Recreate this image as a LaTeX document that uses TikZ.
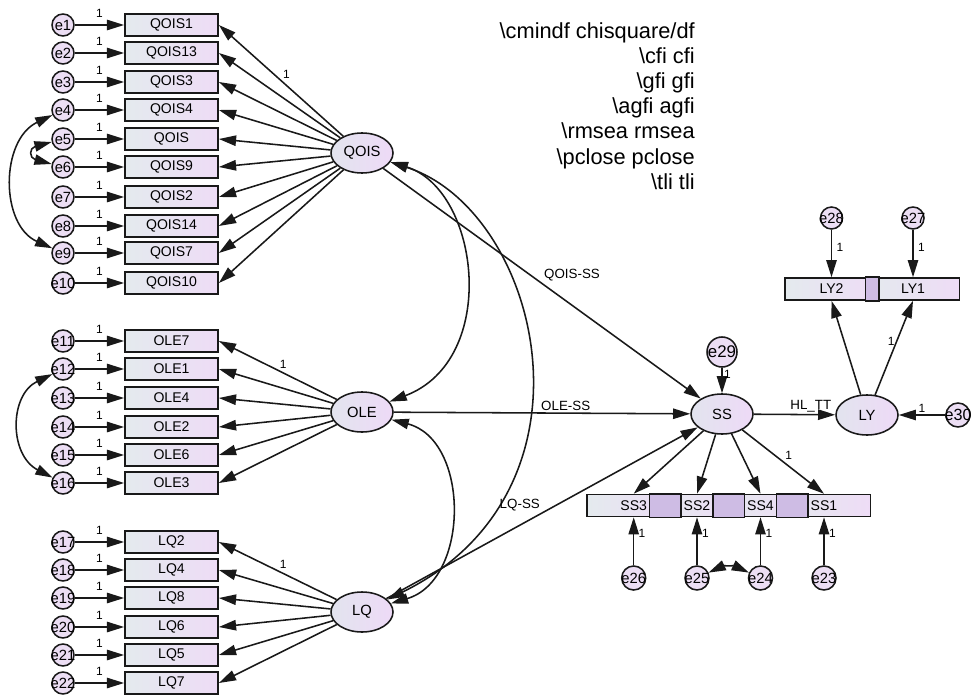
\documentclass[tikz,border=0pt]{standalone}
\usepackage{fontspec}
\setmainfont{Liberation Sans}
\usepackage{xcolor}
\usetikzlibrary{positioning, arrows.meta, shapes.geometric}
\definecolor{boxleft}{RGB}{228,234,238}
\definecolor{boxright}{RGB}{238,220,246}
\definecolor{latleft}{RGB}{226,228,238}
\definecolor{latright}{RGB}{238,218,247}
\definecolor{errfill}{RGB}{236,222,244}
\definecolor{overlapfill}{RGB}{206,188,228}
\definecolor{semline}{RGB}{25,25,25}

\begin{document}
\begin{tikzpicture}[
  x=0.025cm, y=-0.025cm,
  semarrow/.style={-{Triangle[length=4.3mm,width=2.6mm]}, line width=1.1pt, draw=semline},
  semcov/.style={{Triangle[length=4.3mm,width=2.6mm]}-{Triangle[length=4.3mm,width=2.6mm]},
                 line width=1.1pt, draw=semline},
  errnode/.style={circle, draw=semline, line width=1.1pt, fill=errfill,
                  minimum size=0.55cm, inner sep=0pt, font=\fontsize{10.5}{12}\selectfont},
  obsbox/.style={rectangle, draw=semline, line width=1.1pt, left color=boxleft, right color=boxright,
                 minimum width=2.33cm, minimum height=0.55cm, inner sep=0pt,
                 font=\fontsize{10}{12}\selectfont},
  latent/.style={ellipse, draw=semline, line width=1.1pt, left color=latleft, right color=latright,
                 minimum width=1.55cm, minimum height=1.0cm, inner sep=0pt,
                 font=\fontsize{10.5}{12}\selectfont},
  wlabel/.style={font=\fontsize{8.5}{10}\selectfont, inner sep=1pt},
  pathlabel/.style={font=\fontsize{9.5}{11}\selectfont, inner sep=1pt},
  fitnote/.style={align=right, font=\fontsize{15.5}{17.9}\selectfont, inner sep=0pt}
]
\path[use as bounding box, fill=white] (0,0) rectangle (980,696);

% -------- LATENTES --------
\node[latent] (qois) at (362,153) {QOIS};
\node[latent] (ole) at (362,412) {OLE};
\node[latent] (lq) at (362,612) {LQ};
\node[latent] (ss) at (722,414) {SS};
\node[latent] (ly) at (867,415) {LY};

% -------- INDICADORES QOIS / OLE / LQ --------
\foreach \i/\lab/\y in {1/QOIS1/25, 2/QOIS13/53, 3/QOIS3/82, 4/QOIS4/110, 5/QOIS/139,
                        6/QOIS9/167, 7/QOIS2/197, 8/QOIS14/226, 9/QOIS7/253, 10/QOIS10/283}{
  \node[errnode] (e\i) at (63,\y) {\makebox[0pt]{e\i}};
  \node[obsbox] (q\i) at (171.5,\y) {\lab};
  \draw[semarrow] (e\i) -- node[wlabel, above=4pt] {1} (q\i);
}
\foreach \i/\k/\lab/\y in {11/1/OLE7/341, 12/2/OLE1/369, 13/3/OLE4/398,
                           14/4/OLE2/427, 15/5/OLE6/455, 16/6/OLE3/483}{
  \node[errnode] (e\i) at (63,\y) {\makebox[0pt]{e\i}};
  \node[obsbox] (o\k) at (171.5,\y) {\lab};
  \draw[semarrow] (e\i) -- node[wlabel, above=4pt] {1} (o\k);
}
\foreach \i/\k/\lab/\y in {17/1/LQ2/542, 18/2/LQ4/570, 19/3/LQ8/598,
                           20/4/LQ6/627, 21/5/LQ5/655, 22/6/LQ7/683}{
  \node[errnode] (e\i) at (63,\y) {\makebox[0pt]{e\i}};
  \node[obsbox] (l\k) at (171.5,\y) {\lab};
  \draw[semarrow] (e\i) -- node[wlabel, above=4pt] {1} (l\k);
}

% Cargas fatoriais
\draw[semarrow] (qois) -- node[wlabel, above right] {1} (q1.east);
\foreach \k in {2,...,10} \draw[semarrow] (qois) -- (q\k.east);
\draw[semarrow] (ole) -- node[wlabel, above right] {1} (o1.east);
\foreach \k in {2,...,6} \draw[semarrow] (ole) -- (o\k.east);
\draw[semarrow] (lq) -- node[wlabel, above right] {1} (l1.east);
\foreach \k in {2,...,6} \draw[semarrow] (lq) -- (l\k.east);

% Covariancias dos erros
\draw[semcov] (e4) .. controls (0,140) and (0,225) .. (e9);
\draw[semcov] (e5) .. controls (29,148) and (29,158) .. (e6);
\draw[semcov] (e12) .. controls (9,395) and (9,455) .. (e16);

% Covariancias entre latentes
\draw[semcov] (qois) .. controls (480,190) and (500,360) .. (ole);
\draw[semcov] (qois) .. controls (540,210) and (610,490) .. (lq);
\draw[semcov] (ole) .. controls (470,440) and (470,580) .. (lq);

% -------- MODELO ESTRUTURAL --------
\draw[semarrow] (qois) -- node[pathlabel, above right, pos=0.5] {QOIS-SS} (ss);
\draw[semarrow] (ole) -- node[pathlabel, above, pos=0.58] {OLE-SS} (ss);
\draw[semarrow] (lq) -- node[pathlabel, above left, pos=0.5] {LQ-SS} (ss);
\draw[semarrow] (ss) -- node[pathlabel, above, pos=0.7] {HL\_TT} (ly);

\node[errnode, minimum size=0.75cm, font=\fontsize{12}{14}\selectfont] (e29) at (722,352) {\makebox[0pt]{e29}};
\node[errnode, minimum size=0.6cm, font=\fontsize{11.5}{13}\selectfont] (e30) at (958,415) {\makebox[0pt]{e30}};
\draw[semarrow] (e29) -- node[wlabel, right, pos=0.25] {1} (ss);
\draw[semarrow] (e30) -- node[wlabel, above, pos=0.5] {1} (ly);

% -------- INDICADORES SS --------
\node[obsbox] (ss3) at (633.7,505.5) {SS3};
\node[obsbox] (ss2) at (697,505.5) {SS2};
\node[obsbox] (ss4) at (760.5,505.5) {SS4};
\node[obsbox] (ss1) at (824,505.5) {SS1};
\filldraw[fill=overlapfill, draw=semline, line width=1.1pt] (ss2.north west) rectangle (ss3.south east);
\filldraw[fill=overlapfill, draw=semline, line width=1.1pt] (ss4.north west) rectangle (ss2.south east);
\filldraw[fill=overlapfill, draw=semline, line width=1.1pt] (ss1.north west) rectangle (ss4.south east);

\node[errnode, minimum size=0.6cm] (e26) at (633.7,578) {\makebox[0pt]{e26}};
\node[errnode, minimum size=0.6cm] (e25) at (697,578) {\makebox[0pt]{e25}};
\node[errnode, minimum size=0.6cm] (e24) at (760.5,578) {\makebox[0pt]{e24}};
\node[errnode, minimum size=0.6cm] (e23) at (824,578) {\makebox[0pt]{e23}};

\draw[semarrow] (ss) -- (ss3.north);
\draw[semarrow] (ss) -- (ss2.north);
\draw[semarrow] (ss) -- (ss4.north);
\draw[semarrow] (ss) -- node[wlabel, above right, pos=0.5] {1} (ss1.north);

\draw[semarrow] (e26) -- node[wlabel, right=2pt, pos=0.67] {1} (ss3.south);
\draw[semarrow] (e25) -- node[wlabel, right=2pt, pos=0.67] {1} (ss2.south);
\draw[semarrow] (e24) -- node[wlabel, right=2pt, pos=0.67] {1} (ss4.south);
\draw[semarrow] (e23) -- node[wlabel, right=2pt, pos=0.67] {1} (ss1.south);
\draw[semcov] (e25) to[bend left=25] (e24);

% -------- INDICADORES LY --------
\node[obsbox] (ly2) at (831.5,289) {LY2};
\node[obsbox] (ly1) at (913,289) {LY1};
\filldraw[fill=overlapfill, draw=semline, line width=1.1pt] (ly1.north west) rectangle (ly2.south east);

\node[errnode] (e28) at (831.5,218) {\makebox[0pt]{e28}};
\node[errnode] (e27) at (913,218) {\makebox[0pt]{e27}};
\draw[semarrow] (e28) -- node[wlabel, right=2pt, pos=0.37] {1} (ly2.north);
\draw[semarrow] (e27) -- node[wlabel, right=2pt, pos=0.37] {1} (ly1.north);
\draw[semarrow] (ly) -- (ly2.south);
\draw[semarrow] (ly) -- node[wlabel, left, pos=0.57] {1} (ly1.south);

% -------- INDICES DE AJUSTE --------
\node[fitnote, anchor=east] (fitidx) at (695,106) {\textbackslash cmindf chisquare/df\\
  \textbackslash cfi cfi\\ \textbackslash gfi gfi\\ \textbackslash agfi agfi\\
  \textbackslash rmsea rmsea\\ \textbackslash pclose pclose\\ \textbackslash tli tli};

\end{tikzpicture}
\end{document}
